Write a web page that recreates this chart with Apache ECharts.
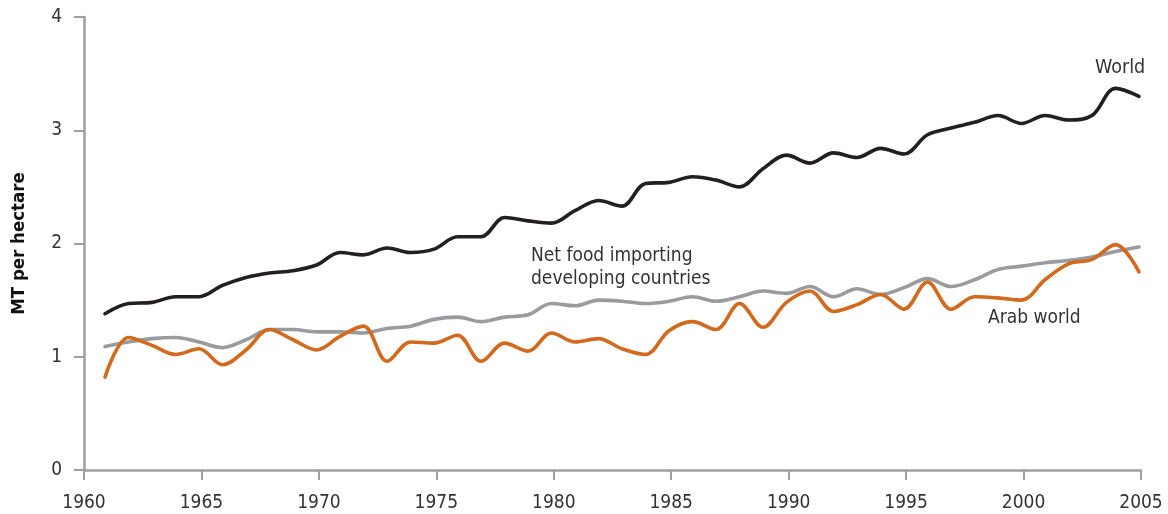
<!DOCTYPE html>
<html>
<head>
<meta charset="utf-8">
<script src="https://cdn.jsdelivr.net/npm/echarts@6/dist/echarts.min.js"></script>
<style>
  html, body { margin: 0; padding: 0; background: #fff; }
  #chart { width: 1168px; height: 514px; }
</style>
</head>
<body>
<div id="chart"></div>
<script>
// yearly cereal yields, MT per hectare, 1961-2005
var years = [];
for (var y = 1961; y <= 2005; y++) years.push(y);

var world = [1.38, 1.47, 1.48, 1.53, 1.53, 1.63, 1.70, 1.74, 1.76, 1.81,
             1.92, 1.90, 1.96, 1.92, 1.95, 2.06, 2.06, 2.23, 2.20, 2.18,
             2.29, 2.38, 2.33, 2.53, 2.54, 2.59, 2.56, 2.50, 2.66, 2.78,
             2.71, 2.80, 2.76, 2.84, 2.79, 2.96, 3.02, 3.07, 3.13, 3.06,
             3.13, 3.09, 3.13, 3.37, 3.30];

var netFoodImporting = [1.09, 1.13, 1.16, 1.17, 1.13, 1.08, 1.15, 1.24, 1.24, 1.22,
                        1.22, 1.21, 1.25, 1.27, 1.33, 1.35, 1.31, 1.35, 1.37, 1.47,
                        1.45, 1.50, 1.49, 1.47, 1.49, 1.53, 1.49, 1.53, 1.58, 1.56,
                        1.62, 1.53, 1.60, 1.55, 1.61, 1.69, 1.62, 1.68, 1.77, 1.80,
                        1.83, 1.85, 1.88, 1.93, 1.97];

var arabWorld = [0.82, 1.17, 1.10, 1.02, 1.07, 0.93, 1.06, 1.24, 1.15, 1.06,
                 1.18, 1.27, 0.96, 1.13, 1.12, 1.19, 0.96, 1.12, 1.05, 1.21,
                 1.13, 1.16, 1.07, 1.02, 1.23, 1.31, 1.24, 1.47, 1.26, 1.48,
                 1.58, 1.40, 1.46, 1.55, 1.42, 1.66, 1.42, 1.53, 1.52, 1.50,
                 1.68, 1.82, 1.86, 1.99, 1.75];

var xTicks = [1960, 1965, 1970, 1975, 1980, 1985, 1990, 1995, 2000, 2005];
var yTicks = [0, 1, 2, 3, 4];

function pairs(vals) {
  return vals.map(function (v, i) { return [years[i], v]; });
}

var font = '"DejaVu Sans Condensed", "Liberation Sans Narrow", sans-serif';
var axisGray = '#9d9fa2';
var textCol = '#333333';

var chart = echarts.init(document.getElementById('chart'));

function line(name, data, color) {
  return {
    name: name,
    type: 'line',
    xAxisIndex: 1,
    data: pairs(data),
    smooth: 0.35,
    showSymbol: false,
    clip: false,
    lineStyle: { color: color, width: 3.6, cap: 'round', join: 'round' },
    emphasis: { disabled: true }
  };
}

chart.setOption({
  animation: false,
  grid: { left: 84, right: 27, top: 17, bottom: 44 },
  xAxis: [{
    type: 'value',
    min: xTicks[0],
    max: xTicks[xTicks.length - 1],
    interval: 5,
    axisLine: { lineStyle: { color: axisGray, width: 2.5 } },
    axisTick: { length: 10, lineStyle: { color: axisGray, width: 2 } },
    axisLabel: { color: textCol, fontFamily: font, fontSize: 19, margin: 24,
                 formatter: function (v) { return String(v); } },
    splitLine: { show: false }
  }, {
    // data positioning axis: the plotted points sit ~0.1 yr left of the labelled years
    type: 'value',
    min: 1960.106,
    max: 2005.085,
    show: false,
    splitLine: { show: false }
  }],
  yAxis: {
    type: 'value',
    min: yTicks[0],
    max: yTicks[yTicks.length - 1],
    interval: 1,
    name: 'MT per hectare',
    nameLocation: 'middle',
    nameGap: 55,
    nameRotate: 90,
    nameTextStyle: { color: '#111', fontFamily: font, fontSize: 18.5, fontWeight: 'bold' },
    axisLine: { show: true, lineStyle: { color: axisGray, width: 2.5 } },
    axisTick: { show: true, length: 10, lineStyle: { color: axisGray, width: 2 } },
    axisLabel: { color: textCol, fontFamily: font, fontSize: 19, margin: 22 },
    splitLine: { show: false }
  },
  series: [
    line('Net food importing developing countries', netFoodImporting, '#9a9b9e'),
    line('Arab world', arabWorld, '#d2691c'),
    line('World', world, '#231f20')
  ],
  graphic: [
    { type: 'text', left: 1095, top: 58,
      style: { text: 'World', fill: textCol, font: '19.5px ' + font } },
    { type: 'text', left: 531, top: 245,
      style: { text: 'Net food importing\ndeveloping countries', fill: textCol,
               font: '19px ' + font, align: 'center', x: 80, lineHeight: 23 } },
    { type: 'text', left: 988, top: 309,
      style: { text: 'Arab world', fill: textCol, font: '19px ' + font } }
  ]
});
</script>
</body>
</html>
